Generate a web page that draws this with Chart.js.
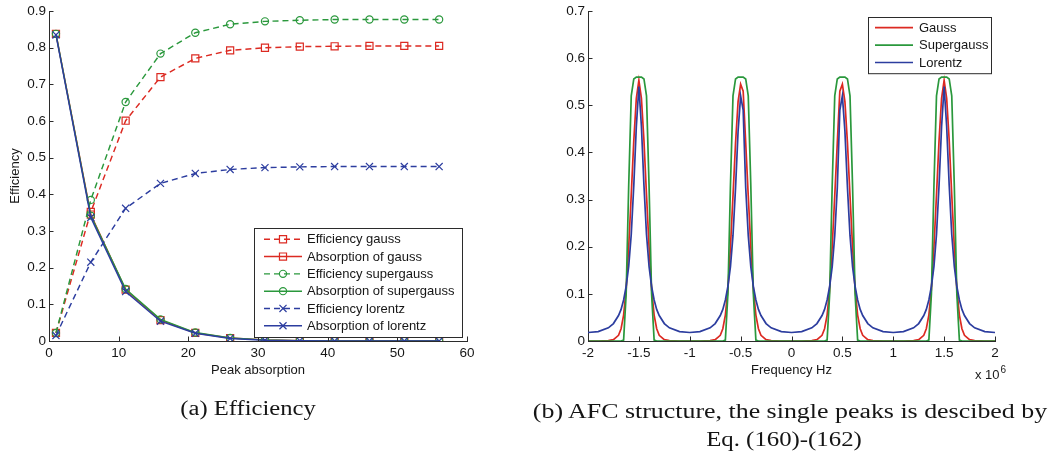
<!DOCTYPE html>
<html>
<head>
<meta charset="utf-8">
<script src="https://cdn.jsdelivr.net/npm/chart.js@4.4.1/dist/chart.umd.min.js"></script>
<style>
  html, body { margin: 0; padding: 0; background: #fff; }
  body { position: relative; width: 1052px; height: 452px; overflow: hidden; }
  #effWrap { position: absolute; left: 0; top: 0; width: 520px; height: 452px; }
  #afcWrap { position: absolute; left: 520px; top: 0; width: 532px; height: 452px; }
  .cap { position: absolute; font-family: "Liberation Serif", "Times New Roman", serif; font-size: 20px;
         line-height: 20px; color: #151515; white-space: nowrap; }
  .mult { position: absolute; left: 975px; top: 367px; font: 13px "Liberation Sans", Arial, sans-serif;
          color: #1a1a1a; white-space: nowrap; }
  .mult .sup { position: relative; top: -6px; font-size: 10px; margin-left: 1px; }
</style>
</head>
<body>
<div id="effWrap"><canvas id="eff" width="520" height="452"></canvas></div>
<div id="afcWrap"><canvas id="afc" width="532" height="452"></canvas></div>
<div class="mult">x 10<span class="sup">6</span></div>
<div class="cap" style="left:248px; top:398px; transform: translateX(-50%) scaleX(1.23);">(a) Efficiency</div>
<div class="cap" style="left:790px; top:401px; transform: translateX(-50%) scaleX(1.295);">(b) AFC structure, the single peaks is descibed by</div>
<div class="cap" style="left:784px; top:429px; transform: translateX(-50%) scaleX(1.24);">Eq. (160)-(162)</div>

<script>
// ---------- (a) Efficiency vs. peak absorption ----------
const peakAbsorption = [1, 6, 11, 16, 21, 26, 31, 36, 41, 46, 51, 56];
const effGauss    = [0.022, 0.352, 0.601, 0.720, 0.771, 0.793, 0.800, 0.803, 0.804, 0.805, 0.805, 0.805];
const absGauss    = [0.838, 0.345, 0.140, 0.057, 0.022, 0.008, 0.003, 0.001, 0.000, 0.000, 0.000, 0.000];
const effSuper    = [0.022, 0.385, 0.652, 0.784, 0.841, 0.864, 0.872, 0.875, 0.877, 0.877, 0.877, 0.877];
const absSuper    = [0.838, 0.342, 0.142, 0.059, 0.023, 0.008, 0.003, 0.001, 0.000, 0.000, 0.000, 0.000];
const effLorentz  = [0.015, 0.215, 0.362, 0.430, 0.457, 0.468, 0.473, 0.475, 0.476, 0.476, 0.476, 0.476];
const absLorentz  = [0.835, 0.337, 0.135, 0.054, 0.021, 0.007, 0.002, 0.001, 0.000, 0.000, 0.000, 0.000];

const effXTicks  = [0, 10, 20, 30, 40, 50, 60];
const effXLabels = ['0', '10', '20', '30', '40', '50', '60'];
const effYTicks  = [0, 0.1, 0.2, 0.3, 0.4, 0.5, 0.6, 0.7, 0.8, 0.9];
const effYLabels = ['0', '0.1', '0.2', '0.3', '0.4', '0.5', '0.6', '0.7', '0.8', '0.9'];

// ---------- (b) AFC structure: absorption vs. frequency (x 10^6 Hz) ----------
const freqMHz = [
  -2.0,
  -1.9, -1.8, -1.75, -1.7, -1.675, -1.65, -1.625, -1.6, -1.575, -1.55, -1.525, -1.5,
  -1.475, -1.45, -1.425, -1.4, -1.375, -1.35, -1.325, -1.3, -1.25, -1.2, -1.1, -1.0,
  -0.9, -0.8, -0.75, -0.7, -0.675, -0.65, -0.625, -0.6, -0.575, -0.55, -0.525, -0.5,
  -0.475, -0.45, -0.425, -0.4, -0.375, -0.35, -0.325, -0.3, -0.25, -0.2, -0.1, 0.0,
  0.1, 0.2, 0.25, 0.3, 0.325, 0.35, 0.375, 0.4, 0.425, 0.45, 0.475, 0.5,
  0.525, 0.55, 0.575, 0.6, 0.625, 0.65, 0.675, 0.7, 0.75, 0.8, 0.9, 1.0,
  1.1, 1.2, 1.25, 1.3, 1.325, 1.35, 1.375, 1.4, 1.425, 1.45, 1.475, 1.5,
  1.525, 1.55, 1.575, 1.6, 1.625, 1.65, 1.675, 1.7, 1.75, 1.8, 1.9, 2.0
];
const afcGauss = [
  0.000,
  0.000, 0.001, 0.003, 0.012, 0.026, 0.055, 0.110, 0.200, 0.310, 0.425, 0.515, 0.553,
  0.515, 0.425, 0.310, 0.200, 0.110, 0.055, 0.026, 0.012, 0.003, 0.001, 0.000, 0.000,
  0.000, 0.001, 0.003, 0.012, 0.026, 0.055, 0.110, 0.200, 0.308, 0.420, 0.508, 0.545,
  0.530, 0.420, 0.308, 0.200, 0.110, 0.055, 0.026, 0.012, 0.003, 0.001, 0.000, 0.000,
  0.000, 0.001, 0.003, 0.012, 0.026, 0.055, 0.110, 0.200, 0.308, 0.420, 0.530, 0.545,
  0.508, 0.420, 0.308, 0.200, 0.110, 0.055, 0.026, 0.012, 0.003, 0.001, 0.000, 0.000,
  0.000, 0.001, 0.003, 0.012, 0.026, 0.055, 0.110, 0.200, 0.310, 0.425, 0.515, 0.553,
  0.515, 0.425, 0.310, 0.200, 0.110, 0.055, 0.026, 0.012, 0.003, 0.001, 0.000, 0.000
];
const afcSuper = [
  0.000,
  0.000, 0.000, 0.000, 0.000, 0.000, 0.002, 0.100, 0.330, 0.520, 0.556, 0.560, 0.560,
  0.560, 0.556, 0.520, 0.330, 0.100, 0.002, 0.000, 0.000, 0.000, 0.000, 0.000, 0.000,
  0.000, 0.000, 0.000, 0.000, 0.000, 0.002, 0.100, 0.330, 0.520, 0.556, 0.560, 0.560,
  0.560, 0.556, 0.520, 0.330, 0.100, 0.002, 0.000, 0.000, 0.000, 0.000, 0.000, 0.000,
  0.000, 0.000, 0.000, 0.000, 0.000, 0.002, 0.100, 0.330, 0.520, 0.556, 0.560, 0.560,
  0.560, 0.556, 0.520, 0.330, 0.100, 0.002, 0.000, 0.000, 0.000, 0.000, 0.000, 0.000,
  0.000, 0.000, 0.000, 0.000, 0.000, 0.002, 0.100, 0.330, 0.520, 0.556, 0.560, 0.560,
  0.560, 0.556, 0.520, 0.330, 0.100, 0.002, 0.000, 0.000, 0.000, 0.000, 0.000, 0.000
];
const afcLorentz = [
  0.018,
  0.020, 0.028, 0.037, 0.054, 0.067, 0.087, 0.116, 0.158, 0.226, 0.330, 0.455, 0.540,
  0.455, 0.330, 0.226, 0.158, 0.116, 0.087, 0.067, 0.054, 0.037, 0.028, 0.020, 0.018,
  0.020, 0.028, 0.037, 0.054, 0.067, 0.087, 0.116, 0.158, 0.224, 0.325, 0.445, 0.520,
  0.490, 0.325, 0.224, 0.158, 0.116, 0.087, 0.067, 0.054, 0.037, 0.028, 0.020, 0.018,
  0.020, 0.028, 0.037, 0.054, 0.067, 0.087, 0.116, 0.158, 0.224, 0.325, 0.490, 0.520,
  0.445, 0.325, 0.224, 0.158, 0.116, 0.087, 0.067, 0.054, 0.037, 0.028, 0.020, 0.018,
  0.020, 0.028, 0.037, 0.054, 0.067, 0.087, 0.116, 0.158, 0.226, 0.330, 0.455, 0.540,
  0.455, 0.330, 0.226, 0.158, 0.116, 0.087, 0.067, 0.054, 0.037, 0.028, 0.020, 0.018
];

const afcXTicks  = [-2, -1.5, -1, -0.5, 0, 0.5, 1, 1.5, 2];
const afcXLabels = ['-2', '-1.5', '-1', '-0.5', '0', '0.5', '1', '1.5', '2'];
const afcYTicks  = [0, 0.1, 0.2, 0.3, 0.4, 0.5, 0.6, 0.7];
const afcYLabels = ['0', '0.1', '0.2', '0.3', '0.4', '0.5', '0.6', '0.7'];

// ---------- styling ----------
const RED = '#dc2a22', GREEN = '#2a983c', BLUE = '#2c3d9f';
const AXIS = '#2b2b2b', TEXT = '#161616';
const SANS = '"Liberation Sans", Arial, Helvetica, sans-serif';
const DASH = [6, 4];
const NOFILL = 'rgba(0,0,0,0)';
const TICK_FONT = { size: 13.5 };

const pts = (xs, ys) => xs.map((x, i) => ({ x, y: ys[i] }));
const fixedTicks = (values) => (scale) => { scale.ticks = values.map(v => ({ value: v })); };
const labelFrom = (values, labels) => (v) => { const i = values.indexOf(v); return i >= 0 ? labels[i] : ''; };

// MATLAB-style tick marks pointing into the plot area
const inwardTicks = {
  id: 'inwardTicks',
  afterDraw(chart, args, opts) {
    const { ctx, chartArea: a } = chart;
    const xs = chart.scales.x, ys = chart.scales.y;
    ctx.save();
    ctx.strokeStyle = opts.color;
    ctx.lineWidth = 1;
    ctx.beginPath();
    xs.ticks.forEach(t => {
      const p = Math.round(xs.getPixelForValue(t.value)) + 0.5;
      ctx.moveTo(p, a.bottom); ctx.lineTo(p, a.bottom - opts.len);
    });
    ys.ticks.forEach(t => {
      const p = Math.round(ys.getPixelForValue(t.value)) + 0.5;
      ctx.moveTo(a.left, p); ctx.lineTo(a.left + opts.len, p);
    });
    ctx.stroke();
    ctx.restore();
  }
};

// Boxed legend with a line sample and centred marker per series
const boxLegend = {
  id: 'boxLegend',
  afterDraw(chart, args, o) {
    const { ctx } = chart;
    const sets = chart.data.datasets;
    const h = o.padY * 2 + o.rowH * sets.length;
    ctx.save();
    ctx.fillStyle = '#fff';
    ctx.fillRect(o.x, o.y, o.w, h);
    ctx.strokeStyle = AXIS;
    ctx.lineWidth = 1;
    ctx.strokeRect(o.x + 0.5, o.y + 0.5, o.w, h);
    ctx.font = '13px ' + SANS;
    ctx.textBaseline = 'middle';
    ctx.textAlign = 'left';
    sets.forEach((ds, i) => {
      const cy = o.y + o.padY + o.rowH * (i + 0.5);
      const x0 = o.x + o.lineX, x1 = x0 + o.lineLen;
      ctx.strokeStyle = ds.borderColor;
      ctx.lineWidth = ds.borderWidth;
      ctx.setLineDash(ds.borderDash || []);
      ctx.beginPath(); ctx.moveTo(x0, cy); ctx.lineTo(x1, cy); ctx.stroke();
      ctx.setLineDash([]);
      if (ds.pointRadius > 0) {
        ctx.fillStyle = NOFILL;
        ctx.lineWidth = ds.pointBorderWidth;
        Chart.helpers.drawPoint(ctx, { pointStyle: ds.pointStyle, rotation: 0, radius: ds.pointRadius, borderWidth: ds.pointBorderWidth }, (x0 + x1) / 2, cy);
      }
      ctx.fillStyle = TEXT;
      ctx.fillText(ds.label, o.x + o.textX, cy + 0.5);
    });
    ctx.restore();
  }
};

function axisCommon() {
  return {
    type: 'linear',
    grid: { display: true, drawOnChartArea: false, drawTicks: false },
    border: { display: true, color: AXIS, width: 1 },
  };
}

function effSeries(label, ys, color, dashed, marker, radius, idx) {
  return {
    label, data: pts(peakAbsorption, ys),
    borderColor: color, backgroundColor: color, borderWidth: 1.45,
    borderDash: dashed ? DASH : [],
    pointStyle: marker, pointRadius: radius, pointBorderWidth: 1.2,
    pointBorderColor: color, pointBackgroundColor: NOFILL,
    tension: 0, fill: false, order: 6 - idx
  };
}

Chart.defaults.font.family = SANS;

new Chart(document.getElementById('eff'), {
  type: 'line',
  data: {
    datasets: [
      effSeries('Efficiency gauss', effGauss, RED, true, 'rect', 5, 0),
      effSeries('Absorption of gauss', absGauss, RED, false, 'rect', 5, 1),
      effSeries('Efficiency supergauss', effSuper, GREEN, true, 'circle', 3.6, 2),
      effSeries('Absorption of supergauss', absSuper, GREEN, false, 'circle', 3.6, 3),
      effSeries('Efficiency lorentz', effLorentz, BLUE, true, 'crossRot', 5, 4),
      effSeries('Absorption of lorentz', absLorentz, BLUE, false, 'crossRot', 5, 5)
    ]
  },
  options: {
    responsive: false, animation: false, devicePixelRatio: 1,
    layout: { padding: { left: 0, top: 10, right: 53, bottom: 73 } },
    plugins: {
      legend: { display: false }, tooltip: { enabled: false },
      inwardTicks: { color: AXIS, len: 4.5 },
      boxLegend: { x: 254, y: 228, w: 208, rowH: 17.3, padY: 2.6, lineX: 10, lineLen: 38, textX: 53 }
    },
    scales: {
      x: Object.assign(axisCommon(), {
        min: 0, max: 60,
        afterBuildTicks: fixedTicks(effXTicks),
        afterFit: (s) => { s.height = 38; },
        ticks: { padding: 4, color: TEXT, font: TICK_FONT, maxRotation: 0, autoSkip: false, callback: labelFrom(effXTicks, effXLabels) },
        title: { display: true, text: 'Peak absorption', color: TEXT, font: { size: 13 }, padding: { top: 0, bottom: 1 } }
      }),
      y: Object.assign(axisCommon(), {
        min: 0, max: 0.9,
        afterBuildTicks: fixedTicks(effYTicks),
        afterFit: (s) => { s.width = 49; },
        ticks: { padding: 3, color: TEXT, font: TICK_FONT, autoSkip: false, callback: labelFrom(effYTicks, effYLabels) },
        title: { display: true, text: 'Efficiency', color: TEXT, font: { size: 13 }, padding: { top: 8, bottom: 0 } }
      })
    }
  },
  plugins: [inwardTicks, boxLegend]
});

function afcSeries(label, ys, color, idx) {
  return {
    label, data: pts(freqMHz, ys),
    borderColor: color, backgroundColor: color, borderWidth: 1.7,
    pointRadius: 0, tension: 0, fill: false, order: 3 - idx
  };
}

new Chart(document.getElementById('afc'), {
  type: 'line',
  data: {
    datasets: [
      afcSeries('Gauss', afcGauss, RED, 0),
      afcSeries('Supergauss', afcSuper, GREEN, 1),
      afcSeries('Lorentz', afcLorentz, BLUE, 2)
    ]
  },
  options: {
    responsive: false, animation: false, devicePixelRatio: 1,
    layout: { padding: { left: 0, top: 11, right: 57, bottom: 73 } },
    plugins: {
      legend: { display: false }, tooltip: { enabled: false },
      inwardTicks: { color: AXIS, len: 4.5 },
      boxLegend: { x: 348, y: 17, w: 123, rowH: 17.4, padY: 2, lineX: 7, lineLen: 38, textX: 51 }
    },
    scales: {
      x: Object.assign(axisCommon(), {
        min: -2, max: 2,
        afterBuildTicks: fixedTicks(afcXTicks),
        afterFit: (s) => { s.height = 38; },
        ticks: { padding: 4, color: TEXT, font: TICK_FONT, maxRotation: 0, autoSkip: false, callback: labelFrom(afcXTicks, afcXLabels) },
        title: { display: true, text: 'Frequency Hz', color: TEXT, font: { size: 13 }, padding: { top: 0, bottom: 1 } }
      }),
      y: Object.assign(axisCommon(), {
        min: 0, max: 0.7,
        afterBuildTicks: fixedTicks(afcYTicks),
        afterFit: (s) => { s.width = 68; },
        ticks: { padding: 3, color: TEXT, font: TICK_FONT, autoSkip: false, callback: labelFrom(afcYTicks, afcYLabels) }
      })
    }
  },
  plugins: [inwardTicks, boxLegend]
});
</script>
</body>
</html>
